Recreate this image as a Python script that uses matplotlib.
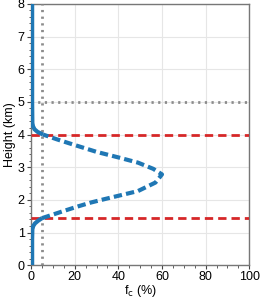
import matplotlib
matplotlib.use("Agg")
import matplotlib.pyplot as plt
from matplotlib.ticker import MultipleLocator

plt.rcParams['font.family'] = ['Liberation Sans', 'DejaVu Sans']

# Solid profile parts (fc in %, height in km)
low_h = [0.0, 0.8, 1.1, 1.2, 1.28, 1.36, 1.44]
low_fc = [0.5, 0.5, 0.6, 1.0, 1.8, 3.2, 5.0]
up_h = [4.0, 4.08, 4.16, 4.25, 4.35, 5.0, 8.0]
up_fc = [5.5, 3.0, 1.6, 0.9, 0.6, 0.5, 0.5]

# Dashed (cloud layer) part
mid_h = [1.44, 1.55, 1.65, 1.8, 1.92, 2.02, 2.27, 2.53, 2.78, 2.95, 3.14, 3.3, 3.47, 3.7, 3.85, 4.0]
mid_fc = [5.0, 10.0, 14.5, 21.5, 27.5, 33.5, 49.0, 57.0, 60.0, 56.0, 49.0, 40.0, 30.0, 19.0, 12.0, 5.5]

cloud_base = 1.44
cloud_top = 4.0
ref_height = 5.0
ref_fc = 5.0

fig = plt.figure(figsize=(2.61, 3.0), dpi=100)
ax = fig.add_axes([0.119, 0.116, 0.836, 0.871])

blue = '#1f77b4'
ax.plot(low_fc, low_h, color=blue, lw=3, solid_capstyle='butt', zorder=4)
ax.plot(up_fc, up_h, color=blue, lw=3, solid_capstyle='butt', zorder=4)
ax.plot(mid_fc, mid_h, color=blue, lw=3, ls=(0, (2.0, 1.0)), zorder=4)

ax.axhline(cloud_top, color='#d62728', lw=2, ls=(0, (3.0, 1.8)), zorder=3)
ax.axhline(cloud_base, color='#d62728', lw=2, ls=(0, (3.0, 1.8)), zorder=3)
ax.axhline(ref_height, color='#8c8c8c', lw=2, ls=(0, (0.8, 1.6)), zorder=3)
ax.axvline(ref_fc, color='#8c8c8c', lw=2, ls=(0, (0.8, 1.6)), zorder=3)

ax.set_xlim(0, 100)
ax.set_ylim(0, 8)
ax.xaxis.set_major_locator(MultipleLocator(20))
ax.xaxis.set_minor_locator(MultipleLocator(5))
ax.yaxis.set_major_locator(MultipleLocator(1))
ax.yaxis.set_minor_locator(MultipleLocator(0.2))
ax.grid(True, which='major', color='#e6e6e6', lw=0.8)
ax.set_axisbelow(True)
ax.tick_params(which='major', length=3, width=0.8, labelsize=9, pad=1.5, color='#444444')
ax.tick_params(which='minor', length=1.8, width=0.6, color='#444444')
for s in ax.spines.values():
    s.set_color('#777777')
    s.set_linewidth(1.0)

ax.set_xlabel('f$_\\mathrm{c}$ (%)', fontsize=9, labelpad=0)
ax.set_ylabel('Height (km)', fontsize=9, labelpad=1)

fig.savefig('out.png', dpi=100)
